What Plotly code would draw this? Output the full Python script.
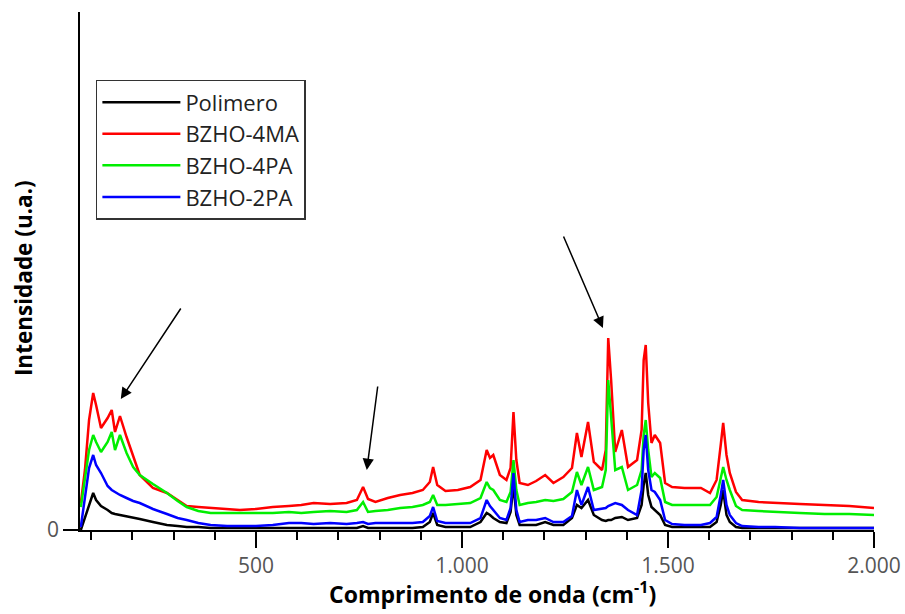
import plotly.graph_objects as go

wavenumber = [75, 85, 95, 105, 112, 124, 140, 150, 158, 170,
              186, 202, 218, 250, 284, 310, 332, 360, 390, 430,
              461, 500, 541, 580, 610, 640, 680, 720, 745, 760,
              772, 790, 820, 850, 880, 905, 922, 930, 940, 960,
              990, 1020, 1045, 1060, 1068, 1076, 1092, 1108, 1118, 1125,
              1132, 1140, 1160, 1180, 1202, 1222, 1246, 1267, 1279, 1290,
              1306, 1320, 1340, 1349, 1355, 1362, 1372, 1388, 1403, 1425,
              1436, 1441, 1446, 1452, 1460, 1468, 1481, 1493, 1510, 1540,
              1580, 1602, 1618, 1628, 1634, 1642, 1650, 1665, 1680, 1720,
              1760, 1820, 1880, 1940, 2000]

polimero = [0, 12, 25, 37, 30, 24, 20, 17, 16, 15,
            14, 13, 11, 8, 5, 4, 3, 3, 2, 2,
            2, 2, 2, 2, 2, 2, 2, 2, 2, 4,
            2, 2, 2, 2, 2, 3, 8, 17, 5, 3,
            3, 3, 8, 17, 15, 12, 8, 7, 18, 45,
            15, 5, 5, 5, 8, 5, 5, 12, 25, 22,
            30, 15, 10, 9, 10, 10, 12, 13, 10, 12,
            25, 45, 57, 35, 23, 20, 15, 5, 3, 3,
            3, 3, 8, 25, 40, 15, 8, 3, 2, 2,
            2, 2, 2, 2, 2]

bzho_4ma = [27, 60, 110, 137, 125, 102, 112, 120, 98, 114,
            93, 73, 55, 42, 37, 30, 24, 23, 22, 21,
            20, 21, 23, 24, 25, 27, 26, 27, 30, 43,
            31, 28, 32, 35, 37, 40, 48, 63, 45, 39,
            40, 43, 50, 80, 72, 75, 55, 50, 62, 118,
            70, 47, 45, 49, 55, 47, 53, 62, 97, 73,
            108, 68, 60, 80, 192, 150, 78, 100, 63, 70,
            100, 170, 185, 127, 87, 95, 87, 47, 43, 42,
            42, 37, 50, 85, 107, 75, 57, 38, 30, 28,
            27, 26, 25, 24, 22]

bzho_4pa = [23, 50, 80, 95, 88, 78, 88, 98, 80, 95,
            77, 63, 55, 46, 37, 29, 23, 19, 17, 17,
            17, 17, 17, 18, 17, 18, 19, 18, 20, 28,
            18, 19, 20, 22, 23, 25, 28, 35, 25, 25,
            26, 27, 32, 48, 42, 40, 30, 28, 38, 70,
            40, 25, 27, 28, 30, 29, 31, 38, 58, 45,
            63, 40, 43, 60, 150, 110, 60, 63, 40, 45,
            60, 95, 110, 80, 53, 57, 52, 28, 25, 25,
            25, 25, 33, 52, 63, 50, 40, 24, 20, 19,
            18, 17, 16, 16, 15]

bzho_2pa = [3, 35, 62, 75, 65, 57, 44, 40, 38, 35,
            32, 29, 27, 21, 16, 12, 10, 7, 5, 4,
            4, 4, 5, 7, 7, 6, 7, 6, 7, 8,
            6, 7, 7, 7, 7, 8, 14, 23, 9, 7,
            7, 7, 12, 30, 24, 20, 12, 10, 22, 57,
            20, 8, 10, 10, 12, 8, 8, 14, 40, 25,
            43, 20, 21, 22, 24, 25, 27, 25, 20, 15,
            40, 80, 95, 60, 40, 38, 30, 10, 6, 5,
            5, 7, 13, 35, 50, 25, 15, 7, 4, 3,
            3, 2, 2, 2, 2]

series_names = ["Polimero", "BZHO-4MA", "BZHO-4PA", "BZHO-2PA"]
series_values = [polimero, bzho_4ma, bzho_4pa, bzho_2pa]
series_colors = ["#000000", "#ff0000", "#00ee00", "#0000ff"]

x_ticks = [500, 1000, 1500, 2000]
x_title = "Comprimento de onda (cm<sup>-1</sup>)"
y_title = "Intensidade (u.a.)"

# arrows: (tail x, tail y, head x, head y) in data units
arrows = [(320, 223, 172, 131), (796, 145, 769, 60), (1245, 295, 1342, 202)]

fig = go.Figure()
for name, vals, col in zip(series_names, series_values, series_colors):
    fig.add_trace(go.Scatter(x=wavenumber, y=vals, mode="lines", name=name,
                             line=dict(color=col, width=2.5)))

for tx, ty, hx, hy in arrows:
    fig.add_annotation(x=hx, y=hy, ax=tx, ay=ty, xref="x", yref="y",
                       axref="x", ayref="y", text="", showarrow=True,
                       arrowhead=2, arrowsize=1.5, arrowwidth=1.5,
                       arrowcolor="#000000")

fig.add_annotation(text=x_title, xref="paper", yref="paper", x=0.519, y=-0.158,
                   xanchor="center", yanchor="bottom", showarrow=False,
                   font=dict(size=23, color="black", weight="bold"))
fig.add_annotation(text=y_title, xref="paper", yref="paper", x=-0.072, y=0.486,
                   xanchor="center", yanchor="middle", showarrow=False, textangle=-90,
                   font=dict(size=22.5, color="black", weight="bold"))

fig.update_layout(
    width=905, height=614,
    margin=dict(l=80, r=31, t=12, b=84, autoexpand=False),
    paper_bgcolor="white", plot_bgcolor="white",
    separators=",.",
    font=dict(family="Open Sans", size=21, color="#222222"),
    showlegend=True,
    legend=dict(x=0.02, y=0.869, xanchor="left", yanchor="top",
                bordercolor="#333333", borderwidth=1.5, bgcolor="white",
                itemwidth=78,
                font=dict(size=22, color="#222222")),
    xaxis=dict(range=[73, 2000], tickvals=x_ticks, tickformat=",d",
               automargin=False,
               ticks="outside", ticklen=16, tickwidth=1.5, tickcolor="black",
               minor=dict(dtick=100, tick0=0, ticks="outside", ticklen=8,
                          tickwidth=1.5, tickcolor="black"),
               showline=True, linecolor="black", linewidth=1.5,
               showgrid=False, zeroline=False,
               tickfont=dict(size=21, color="#555555")),
    yaxis=dict(range=[0, 518], tickvals=[0], ticktext=["0"],
               automargin=False,
               ticks="outside", ticklen=15, tickwidth=1.5, tickcolor="black",
               showline=True, linecolor="black", linewidth=1.5,
               showgrid=False, zeroline=False,
               tickfont=dict(size=21, color="#555555")),
)

fig.write_html("out.html")
